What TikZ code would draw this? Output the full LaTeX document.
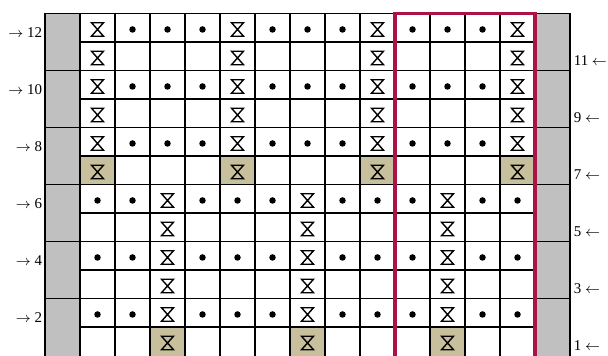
\documentclass[tikz,border=0pt]{standalone}
\usepackage{amsmath,amssymb}
\usepackage{fontspec}
\setmainfont{Liberation Serif}
\usepackage{xcolor}
\usepackage{tikz}
\usetikzlibrary{calc}

\definecolor{chartred}{RGB}{170,18,72}
\definecolor{selvgray}{RGB}{192,192,192}
\definecolor{sliptan}{RGB}{200,192,156}

\begin{document}
\begin{tikzpicture}[x=0.7cm, y=0.57cm,
    grid/.style={line width=0.85pt, line cap=rect},
    hglass/.pic={\draw[line width=0.8pt, line join=miter] (-0.12cm,0.135cm) -- (0.12cm,0.135cm) -- (-0.12cm,-0.135cm) -- (0.12cm,-0.135cm) -- cycle;},
    rowlbl/.style={font=\fontsize{8.5}{10}\selectfont, yshift=-0.09cm}]
    \useasboundingbox (-2.2857,0) rectangle (15.0857,12.474);

    % Edge columns
    \fill[selvgray] (-1,0) rectangle (0,12);
    \fill[selvgray] (13,0) rectangle (14,12);

    % Shaded cells
    \foreach \c in {1,5,9,13} \fill[sliptan] (\c-1,6) rectangle (\c,7);
    \foreach \c in {3,7,11} \fill[sliptan] (\c-1,0) rectangle (\c,1);

    % Grid
    \foreach \x in {-1,...,14} \draw[grid] (\x,0) -- (\x,12);
    \foreach \y in {1,...,12} \draw[grid] (0,\y) -- (13,\y);
    \foreach \y in {2,4,...,12} \draw[grid] (-1,\y) -- (14,\y);

    % Stitches, upper part
    \foreach \r in {7,...,12}
        \foreach \c in {1,5,9,13} \pic at (\c-0.5,\r-0.56) {hglass};
    \foreach \r in {8,10,12}
        \foreach \c in {2,3,4,6,7,8,10,11,12} \fill (\c-0.5,\r-0.56) circle (0.065cm);

    % Stitches, lower part
    \foreach \r in {1,...,6}
        \foreach \c in {3,7,11} \pic at (\c-0.5,\r-0.56) {hglass};
    \foreach \r in {2,4,6}
        \foreach \c in {1,2,4,5,6,8,9,10,12,13} \fill (\c-0.5,\r-0.56) circle (0.065cm);

    % Repeat frame
    \draw[line width=2pt, chartred, line join=miter] (9,0) -- (9,12) -- (13,12) -- (13,0);

    % Row numbers
    \foreach \r in {2,4,...,12}
        \node[rowlbl, anchor=east, inner sep=1.5pt] (l\r) at (-1,\r-0.5) {$\rightarrow$ \r};
    \foreach \r in {1,3,...,11}
        \node[rowlbl, anchor=west, inner sep=2pt] (r\r) at (14,\r-0.5) {\r\ $\leftarrow$};
\end{tikzpicture}
\end{document}
